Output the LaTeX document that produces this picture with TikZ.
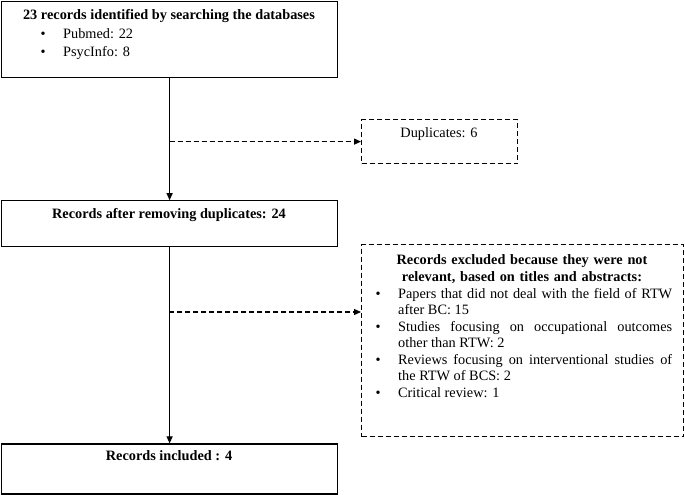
\documentclass[tikz,border=0pt]{standalone}
\usepackage{fontspec}
\setmainfont{Liberation Serif}
\usetikzlibrary{arrows.meta,positioning}

\hyphenpenalty=10000
\tolerance=9999

% bullet line with hanging indent (items separated by \par)
\newcommand{\bitem}{\noindent\hangindent=23pt\hangafter=1\hbox to 23pt{\hskip0.5pt\textbullet\hss}}

\tikzset{
	flowbox/.style = {draw, line width=1.2pt, minimum width=336pt, inner sep=0pt},
	exclbox/.style = {flowbox, dashed, dash pattern=on 5pt off 3pt},
	hd/.style = {inner sep=0pt, anchor=base, font=\fontsize{14.3}{16.5}\selectfont\bfseries},
	txt/.style = {inner sep=0pt, anchor=base, font=\fontsize{14.3}{16.5}\selectfont},
	blist/.style = {inner sep=0pt, anchor=base west, align=justify,
		font=\fontsize{14.3}{#1}\selectfont},
	arr/.style = {line width=1.1pt, -{Triangle[length=7pt,width=6pt]}},
	darr/.style = {arr, dashed, dash pattern=on 5pt off 3pt}
}

\begin{document}
\begin{tikzpicture}[x=1pt, y=-1pt]
	\useasboundingbox (0,0) rectangle (685,495);

	% main column
	\node[flowbox, minimum height=76pt, anchor=north west] (search) at (1,1) {};
	\node[flowbox, minimum height=46pt, below=122pt of search] (removing) {};
	\node[flowbox, minimum height=50pt, below=196pt of removing] (incl) {};

	% side boxes
	\node[exclbox, minimum width=156pt, minimum height=44pt, anchor=north west] (dup) at (361,119) {};
	\node[exclbox, minimum width=322pt, minimum height=192pt, anchor=north west] (excl) at (361,244) {};

	% texts
	\node[hd] (searchhd) at (169,19.5) {23 records identified by searching the databases};
	\node[blist=18.5pt, text width=280pt] (searchlist) at (40,38)
		{\bitem Pubmed: 22\par\bitem PsycInfo: 8};
	\node[hd] (removinghd) at (169,218) {Records after removing duplicates: 24};
	\node[hd] (inclhd) at (169,460) {Records included : 4};
	\node[txt] (duptxt) at (439,137.5) {Duplicates: 6};
	\node[hd, text width=300pt, align=center] (exclhd) at (522,264.5)
		{Records excluded because they were not\\ relevant, based on titles and abstracts:};
	\node[blist=16.5pt, text width=297pt] (excllist) at (375,298)
		{\bitem Papers that did not deal with the field of RTW after BC: 15\par
		 \bitem Studies focusing on occupational outcomes other than RTW: 2\par
		 \bitem Reviews focusing on interventional studies of the RTW of BCS: 2\par
		 \bitem Critical review: 1};

	% edges
	\coordinate (j1) at (search.south |- dup.west);
	\coordinate (j2) at (169,312);
	\draw[arr] (search) -- (removing);
	\draw[arr] (removing) -- (incl);
	\draw[darr] (j1) -- (dup);
	\draw[darr] (j2) -- (excl.west |- j2);
\end{tikzpicture}
\end{document}
